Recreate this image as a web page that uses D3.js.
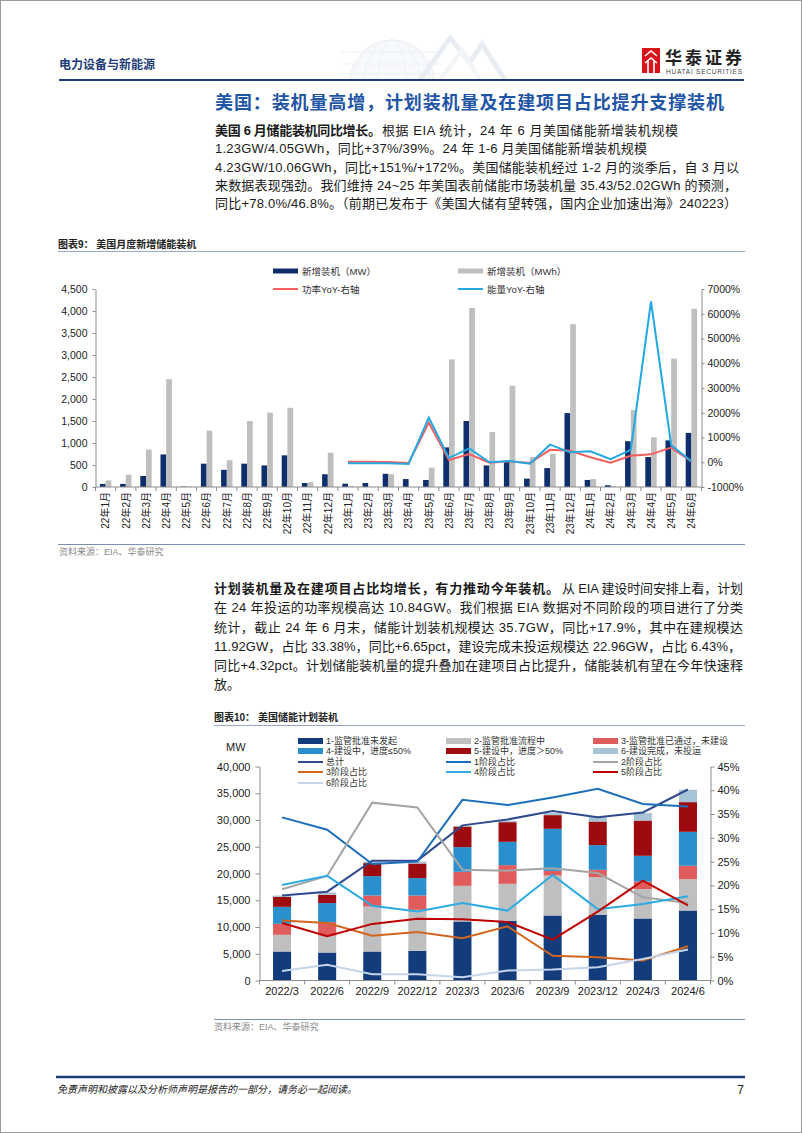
<!DOCTYPE html>
<html><head><meta charset="utf-8">
<script src="https://cdn.jsdelivr.net/npm/d3@7"></script>
<style>
body{margin:0;background:#fff;}
svg{display:block;}
text{font-family:"Liberation Sans","Noto Sans CJK SC",sans-serif;}
</style></head>
<body><svg id="page" width="802" height="1133"></svg>
<script>
// ---------- Chart 9 data ----------
const months = ["22年1月","22年2月","22年3月","22年4月","22年5月","22年6月","22年7月","22年8月","22年9月","22年10月","22年11月","22年12月",
"23年1月","23年2月","23年3月","23年4月","23年5月","23年6月","23年7月","23年8月","23年9月","23年10月","23年11月","23年12月",
"24年1月","24年2月","24年3月","24年4月","24年5月","24年6月"];
const newMW  = [70,70,250,740,10,530,390,530,490,720,90,290,75,90,300,180,160,900,1500,490,570,190,430,1680,160,40,1040,680,1060,1230];
const newMWh = [150,280,850,2450,10,1280,610,1500,1690,1800,110,780,20,5,290,0,440,2900,4070,1250,2300,680,750,3700,180,20,1750,1130,2920,4050];
const yoyMonths = months.slice(12);
const powerYoY  = [20,20,10,-30,1600,90,330,-20,40,-30,500,460,200,-20,260,320,590,37];
const energyYoY = [-40,-40,-40,-70,1800,170,560,0,50,-60,710,400,440,120,500,6500,690,39];
const leftTicks1 = [0,500,1000,1500,2000,2500,3000,3500,4000,4500];
const rightTicks1 = [-1000,0,1000,2000,3000,4000,5000,6000,7000];

// ---------- Chart 10 data ----------
const quarters = ["2022/3","2022/6","2022/9","2022/12","2023/3","2023/6","2023/9","2023/12","2024/3","2024/6"];
const stage1 = [5420,5230,5420,5550,11030,11160,12150,12280,11590,13080];
const stage2 = [3120,3180,8410,7660,6670,6910,7470,7050,5490,5870];
const stage3 = [2060,2500,2060,2680,2620,3500,880,1360,1420,2490];
const stage4 = [3170,3560,3620,3250,4610,4350,7850,4620,4810,6350];
const stage5 = [1870,1550,2430,2730,3850,3680,2560,4410,6590,5550];
const stage6 = [250,430,300,370,130,250,380,820,1390,2300];
const totalMW = [15900,16600,22400,22400,29000,30100,31700,30500,31400,35700];
const share1 = [34.3,31.7,24.5,25.0,38.0,36.9,38.5,40.3,37.1,36.6];
const share2 = [19.2,22.0,37.4,36.4,23.3,23.1,23.6,22.6,17.5,16.3];
const share3 = [12.6,12.1,9.4,10.2,8.9,11.4,5.2,4.9,4.2,7.2];
const share4 = [20.1,22.0,15.7,14.5,16.3,14.7,22.2,15.0,16.1,17.7];
const share5 = [12.1,9.3,11.9,13.0,12.9,12.3,8.6,14.5,21.0,15.8];
const share6 = [2.0,3.3,1.3,1.3,0.7,2.1,2.3,2.8,4.5,6.5];
const leftTicks2 = [0,5000,10000,15000,20000,25000,30000,35000,40000];
const rightTicks2 = [0,5,10,15,20,25,30,35,40,45];

const svg = d3.select("#page");
const NAVY = "#1d3c78";
const CJK = '"Liberation Sans","Noto Sans CJK SC",sans-serif';

// page border
svg.append("rect").attr("x",0.5).attr("y",0.5).attr("width",801).attr("height",1132)
  .attr("fill","none").attr("stroke","#9a9a9a");

// ---------- header ----------
const wm = svg.append("g").attr("opacity",0.4);
const clip = svg.append("clipPath").attr("id","wmclip");
clip.append("rect").attr("x",300).attr("y",30).attr("width",220).attr("height",50);
const wg = wm.append("g").attr("clip-path","url(#wmclip)");
wg.append("circle").attr("cx",392).attr("cy",82).attr("r",42).attr("fill","#eef1f6").attr("stroke","#d0d7e3");
[14,28,38].forEach(r=>wg.append("ellipse").attr("cx",392).attr("cy",82).attr("rx",r).attr("ry",42).attr("fill","none").attr("stroke","#d5dce7"));
[52,64,74].forEach(yy=>wg.append("line").attr("x1",340).attr("x2",444).attr("y1",yy).attr("y2",yy).attr("stroke","#d5dce7"));
wg.append("path").attr("d","M420,80 L450,38 L470,62 L482,44 L505,80").attr("fill","none").attr("stroke","#c8d3e6").attr("stroke-width",5);
wg.append("path").attr("d","M440,80 L462,50 L480,80").attr("fill","none").attr("stroke","#dfe6f0").attr("stroke-width",4);

svg.append("text").attr("x",59).attr("y",69).attr("font-size",12).attr("font-weight","bold")
  .attr("fill",NAVY).text("电力设备与新能源");
svg.append("line").attr("x1",59).attr("x2",744).attr("y1",80).attr("y2",80).attr("stroke",NAVY).attr("stroke-width",2);
const lg = svg.append("g");
lg.append("rect").attr("x",642).attr("y",48).attr("width",18).attr("height",25).attr("fill","#d7141a");
lg.append("path").attr("d","M645,56 L651,51 L657,56 M645,63 L651,58 L657,63 M648,73 L648,60 M654,73 L654,60").attr("stroke","#fff").attr("stroke-width",1.6).attr("fill","none");
lg.append("text").attr("x",665).attr("y",64).attr("font-size",17).attr("font-weight","bold").attr("fill","#222")
  .attr("textLength",77).text("华泰证券");
lg.append("text").attr("x",666).attr("y",74).attr("font-size",6.5).attr("fill","#444").attr("textLength",76).text("HUATAI SECURITIES");

// ---------- section title & paragraphs ----------
function line(x,y,str,len,opts={}){
  const t = svg.append("text").attr("x",x).attr("y",y).attr("font-size",opts.size||13)
    .attr("fill",opts.fill||"#1a1a1a").attr("font-weight",opts.bold?"bold":"normal").text(str);
  if(len) t.attr("textLength",len).attr("lengthAdjust","spacing");
  return t;
}
line(215,109,"美国：装机量高增，计划装机量及在建项目占比提升支撑装机",509,{size:18,bold:true,fill:"#1f55a5"});

line(215,135,"美国 6 月储能装机同比增长。",166,{bold:true});
line(382,135,"根据 EIA 统计，24 年 6 月美国储能新增装机规模",296);
line(215,153,"1.23GW/4.05GWh，同比+37%/39%。24 年 1-6 月美国储能新增装机规模",432);
line(215,172,"4.23GW/10.06GWh，同比+151%/+172%。美国储能装机经过 1-2 月的淡季后，自 3 月以",524);
line(215,190,"来数据表现强劲。我们维持 24~25 年美国表前储能市场装机量 35.43/52.02GWh 的预测，",522);
line(215,208,"同比+78.0%/46.8%。（前期已发布于《美国大储有望转强，国内企业加速出海》240223）",522);

line(214,593,"计划装机量及在建项目占比均增长，有力推动今年装机。",345,{bold:true});
line(562,593,"从 EIA 建设时间安排上看，计划",181);
line(214,612,"在 24 年投运的功率规模高达 10.84GW。我们根据 EIA 数据对不同阶段的项目进行了分类",529);
line(214,632,"统计，截止 24 年 6 月末，储能计划装机规模达 35.7GW，同比+17.9%，其中在建规模达",529);
line(214,651,"11.92GW，占比 33.38%，同比+6.65pct，建设完成未投运规模达 22.96GW，占比 6.43%，",527);
line(214,670,"同比+4.32pct。计划储能装机量的提升叠加在建项目占比提升，储能装机有望在今年快速释",529);
line(214,689,"放。",null);

// ---------- Chart 9 ----------
svg.append("text").attr("x",58).attr("y",248).attr("font-size",10).attr("font-weight","bold").attr("fill","#222")
  .text("图表9：  美国月度新增储能装机");
svg.append("line").attr("x1",58).attr("x2",745).attr("y1",251.5).attr("y2",251.5).attr("stroke","#98a8c4");
svg.append("line").attr("x1",58).attr("x2",745).attr("y1",544.5).attr("y2",544.5).attr("stroke","#7d90b3");
svg.append("text").attr("x",59).attr("y",555).attr("font-size",9).attr("fill","#8a8a8a").text("资料来源：EIA、华泰研究");

const c1 = svg.append("g");
const x1 = d3.scaleBand().domain(months).range([95.5,701.5]).paddingInner(0.435).paddingOuter(0.2175);
const x1s = d3.scaleBand().domain(["mw","mwh"]).range([0,x1.bandwidth()]);
const y1L = d3.scaleLinear().domain([0,4500]).range([487,289]);
const y1R = d3.scaleLinear().domain([-1000,7000]).range([487,289]);
const BLUE1="#0e2f6c", GRAY1="#bfbfbf", RED1="#f4605f", CYAN1="#22a8e2";

c1.selectAll(".bmw").data(months).join("rect")
  .attr("x",d=>x1(d)+x1s("mw")).attr("width",x1s.bandwidth())
  .attr("y",(d,i)=>y1L(newMW[i])).attr("height",(d,i)=>y1L(0)-y1L(newMW[i])).attr("fill",BLUE1);
c1.selectAll(".bmwh").data(months).join("rect")
  .attr("x",d=>x1(d)+x1s("mwh")).attr("width",x1s.bandwidth())
  .attr("y",(d,i)=>y1L(newMWh[i])).attr("height",(d,i)=>y1L(0)-y1L(newMWh[i])).attr("fill",GRAY1);

const cx1 = d=>x1(d)+x1.bandwidth()/2;
const lineP = d3.line().x(d=>cx1(d.m)).y(d=>y1R(d.v));
c1.append("path").datum(yoyMonths.map((m,i)=>({m,v:powerYoY[i]})))
  .attr("d",lineP).attr("fill","none").attr("stroke",RED1).attr("stroke-width",2);
c1.append("path").datum(yoyMonths.map((m,i)=>({m,v:energyYoY[i]})))
  .attr("d",lineP).attr("fill","none").attr("stroke",CYAN1).attr("stroke-width",2);

const AX="#8c8c8c";
const gL1 = c1.append("g").attr("transform","translate(95.5,0)")
  .call(d3.axisLeft(y1L).tickValues(leftTicks1).tickSize(3).tickSizeOuter(0).tickFormat(d3.format(",")));
const gR1 = c1.append("g").attr("transform","translate(701.5,0)")
  .call(d3.axisRight(y1R).tickValues(rightTicks1).tickSize(3).tickSizeOuter(0).tickFormat(d=>d+"%"));
[gL1,gR1].forEach(g=>{
  g.select(".domain").attr("stroke",AX);
  g.selectAll(".tick line").attr("stroke",AX);
  g.selectAll("text").attr("font-size",10.5).attr("fill","#222").attr("font-family",CJK);
});
gL1.selectAll("text").attr("x",-8);
gR1.selectAll("text").attr("x",6);
c1.append("line").attr("x1",95.5).attr("x2",701.5).attr("y1",487).attr("y2",487).attr("stroke",AX);
c1.selectAll(".xt").data(d3.range(months.length+1)).join("line")
  .attr("x1",i=>x1.range()[0]+i*x1.step()).attr("x2",i=>x1.range()[0]+i*x1.step())
  .attr("y1",487).attr("y2",491).attr("stroke",AX);
c1.selectAll(".xl").data(months).join("text")
  .attr("transform",d=>`translate(${cx1(d)+3.8},492) rotate(-90)`)
  .attr("text-anchor","end").attr("font-size",10).attr("fill","#222").text(d=>d);

const lg1 = [
  {t:"新增装机（MW）",c:BLUE1,x:273,y:271,type:"rect"},
  {t:"新增装机（MWh）",c:GRAY1,x:458,y:271,type:"rect"},
  {t:"功率YoY-右轴",c:RED1,x:273,y:289,type:"line"},
  {t:"能量YoY-右轴",c:CYAN1,x:458,y:289,type:"line"}];
lg1.forEach(d=>{
  if(d.type==="rect") c1.append("rect").attr("x",d.x).attr("y",d.y-2.5).attr("width",25).attr("height",5).attr("fill",d.c);
  else c1.append("line").attr("x1",d.x).attr("x2",d.x+25).attr("y1",d.y).attr("y2",d.y).attr("stroke",d.c).attr("stroke-width",2);
  c1.append("text").attr("x",d.x+29).attr("y",d.y+3.5).attr("font-size",9.5).attr("fill","#333").text(d.t);
});

// ---------- Chart 10 ----------
svg.append("text").attr("x",214).attr("y",721).attr("font-size",10).attr("font-weight","bold").attr("fill","#222")
  .text("图表10：  美国储能计划装机");
svg.append("line").attr("x1",214).attr("x2",745).attr("y1",725.5).attr("y2",725.5).attr("stroke","#98a8c4");
svg.append("line").attr("x1",214).attr("x2",745).attr("y1",1019.5).attr("y2",1019.5).attr("stroke","#7d90b3");
svg.append("text").attr("x",214).attr("y",1030).attr("font-size",9).attr("fill","#8a8a8a").text("资料来源：EIA、华泰研究");

const c2 = svg.append("g");
const x2 = d3.scaleBand().domain(quarters).range([259.5,710.5]).paddingInner(0.6).paddingOuter(0.3);
const y2L = d3.scaleLinear().domain([0,40000]).range([980.5,766.5]);
const y2R = d3.scaleLinear().domain([0,45]).range([980.5,766.5]);
const stageNames = ["1-监管批准未发起","2-监管批准流程中","3-监管批准已通过，未建设","4-建设中，进度≤50%","5-建设中，进度＞50%","6-建设完成，未投运"];
const stageColors = ["#123c7c","#bfbfbf","#e05c5c","#2a90cd","#9e0b0f","#a7c3d6"];
const stages = [stage1,stage2,stage3,stage4,stage5,stage6];
const rows = quarters.map((q,i)=>{const o={q}; stages.forEach((s,k)=>o["s"+k]=s[i]); return o;});
const stack = d3.stack().keys(stages.map((s,k)=>"s"+k))(rows);
c2.selectAll(".layer").data(stack).join("g").attr("fill",(d,k)=>stageColors[k])
  .selectAll("rect").data(d=>d).join("rect")
  .attr("x",d=>x2(d.data.q)).attr("width",x2.bandwidth())
  .attr("y",d=>y2L(d[1])).attr("height",d=>y2L(d[0])-y2L(d[1]));

const cx2 = q=>x2(q)+x2.bandwidth()/2;
const seriesLines = [
  {name:"总计",vals:totalMW,c:"#2f4a8e",axis:"L"},
  {name:"1阶段占比",vals:share1,c:"#1e6fbb",axis:"R"},
  {name:"2阶段占比",vals:share2,c:"#a5a5a5",axis:"R"},
  {name:"3阶段占比",vals:share3,c:"#d2661e",axis:"R"},
  {name:"4阶段占比",vals:share4,c:"#2cabe4",axis:"R"},
  {name:"5阶段占比",vals:share5,c:"#c00000",axis:"R"},
  {name:"6阶段占比",vals:share6,c:"#c5d5ea",axis:"R"}];
seriesLines.forEach(s=>{
  const ys = s.axis==="L"?y2L:y2R;
  c2.append("path").datum(quarters.map((q,i)=>({q,v:s.vals[i]})))
    .attr("d",d3.line().x(d=>cx2(d.q)).y(d=>ys(d.v)))
    .attr("fill","none").attr("stroke",s.c).attr("stroke-width",2);
});

const gL2 = c2.append("g").attr("transform","translate(259.5,0)")
  .call(d3.axisLeft(y2L).tickValues(leftTicks2).tickSize(4).tickSizeOuter(0).tickFormat(d3.format(",")));
const gR2 = c2.append("g").attr("transform","translate(710.5,0)")
  .call(d3.axisRight(y2R).tickValues(rightTicks2).tickSize(4).tickSizeOuter(0).tickFormat(d=>d+"%"));
[gL2,gR2].forEach(g=>{
  g.select(".domain").attr("stroke",AX);
  g.selectAll(".tick line").attr("stroke",AX);
  g.selectAll("text").attr("font-size",11).attr("fill","#222").attr("font-family",CJK);
});
gL2.selectAll("text").attr("x",-9);
gR2.selectAll("text").attr("x",7);
c2.append("line").attr("x1",259.5).attr("x2",710.5).attr("y1",980.5).attr("y2",980.5).attr("stroke",AX);
c2.selectAll(".xt").data(d3.range(quarters.length+1)).join("line")
  .attr("x1",i=>x2.range()[0]+i*x2.step()).attr("x2",i=>x2.range()[0]+i*x2.step())
  .attr("y1",980.5).attr("y2",984.5).attr("stroke",AX);
c2.selectAll(".xl").data(quarters).join("text")
  .attr("x",d=>cx2(d)).attr("y",995).attr("text-anchor","middle").attr("font-size",11).attr("fill","#222").text(d=>d);
c2.append("text").attr("x",226).attr("y",751).attr("font-size",11).attr("fill","#222").text("MW");

const colX = [298,446,593];
const rowY = [741,751,762,772,783];
const legend2 = stageNames.map((n,k)=>({t:n,c:stageColors[k],type:"rect"}))
  .concat(seriesLines.map(s=>({t:s.name,c:s.c,type:"line"})));
legend2.forEach((d,i)=>{
  const x = colX[i%3], y = rowY[Math.floor(i/3)];
  if(d.type==="rect") c2.append("rect").attr("x",x).attr("y",y-3).attr("width",25).attr("height",6).attr("fill",d.c);
  else c2.append("line").attr("x1",x).attr("x2",x+25).attr("y1",y).attr("y2",y).attr("stroke",d.c).attr("stroke-width",2);
  c2.append("text").attr("x",x+28).attr("y",y+3.3).attr("font-size",9).attr("fill","#333").text(d.t);
});

// ---------- footer ----------
svg.append("line").attr("x1",56).attr("x2",745).attr("y1",1077).attr("y2",1077).attr("stroke",NAVY).attr("stroke-width",2.5);
svg.append("text").attr("x",57).attr("y",1093).attr("font-size",10).attr("font-style","italic").attr("fill","#222")
  .text("免责声明和披露以及分析师声明是报告的一部分，请务必一起阅读。");
svg.append("text").attr("x",744).attr("y",1094).attr("text-anchor","end").attr("font-size",12).attr("fill","#222").text("7");
</script></body></html>
